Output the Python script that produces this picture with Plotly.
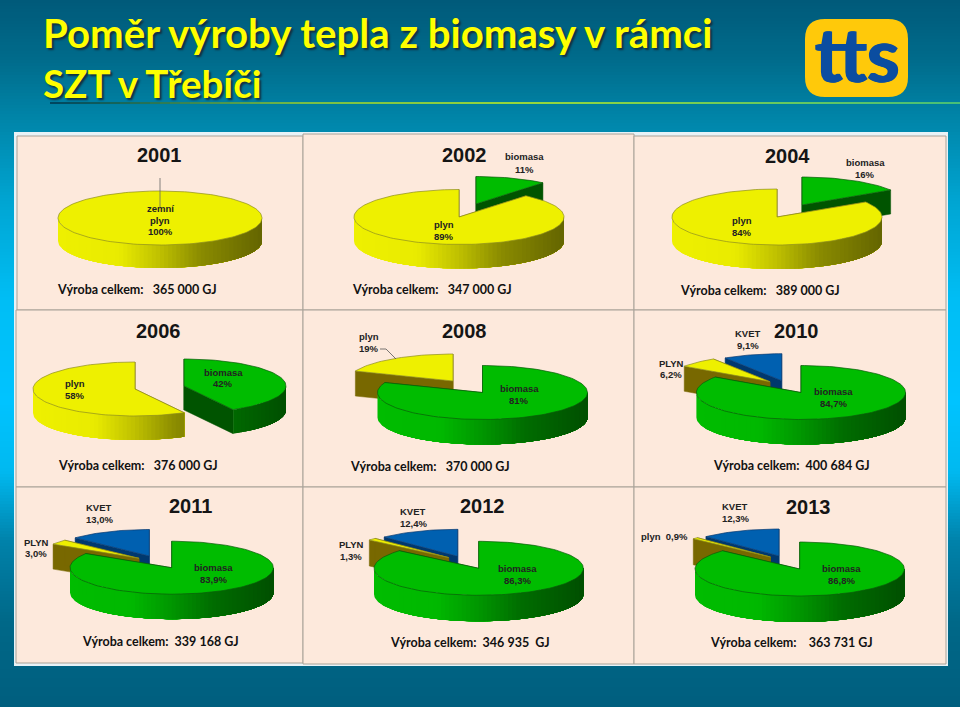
import math
import plotly.graph_objects as go

YEARS = ["2001", "2002", "2004", "2006", "2008", "2010", "2011", "2012", "2013"]
BIOMASS = [0, 11, 16, 42, 81, 84.7, 83.9, 86.3, 86.8]
GAS = [100, 89, 84, 58, 19, 6.2, 3.0, 1.3, 0.9]
CHP = [0, 0, 0, 0, 0, 9.1, 13.0, 12.4, 12.3]
TOTALS = ["365 000 GJ", "347 000 GJ", "389 000 GJ", "376 000 GJ", "370 000 GJ",
          "400 684 GJ", "339 168 GJ", "346 935  GJ", "363 731 GJ"]

# layout of each pie: radii, depth, and the centre of each exploded slice
RX = [102, 105, 105, 102, 105, 104.6, 101.7, 104.7, 104.7]
RY = [27, 27.5, 28, 27, 27, 27, 26.5, 27, 27]
DEPTH = [23, 24, 24, 24, 25, 25, 25, 26, 26]
BIO_C = [None, (476, 204), (802, 205), (184, 386), (482.5, 392.5), (801, 392.5), (171.7, 567.7), (478.7, 568.3), (799.7, 569)]
GAS_C = [(160, 218), (459, 217), (777, 217), (135, 389), (453, 381), (770, 381.7), (139, 558.3), (448.7, 557.6), (770.5, 557)]
CHP_C = [None, None, None, None, None, (781.7, 380.7), (149.3, 556), (457.7, 556.3), (779, 556)]
DRAW_ORDER = [["gas"], ["bio", "gas"], ["bio", "gas"], ["gas", "bio"], ["gas", "bio"]] + [["chp", "gas", "bio"]] * 4

YEAR_POS = [(159, 155), (464, 155), (787, 155.5), (158, 331), (464, 331), (796, 331), (190.5, 506), (482, 506), (808, 507)]
TOTAL_POS = [(55, 289), (350, 289), (678, 290), (56, 465), (348, 466), (711, 465), (80, 641), (388, 642), (708, 642)]
TOTAL_GAP = [" ", " ", " ", " ", " ", "", "", "", "  "]
LABELS = [
    ("zemní", 160, 208), ("plyn", 160, 220), ("100%", 160, 231),
    ("biomasa", 524, 156), ("11%", 524, 169), ("plyn", 444, 224), ("89%", 444, 236),
    ("biomasa", 865, 162), ("16%", 865, 174), ("plyn", 742, 220), ("84%", 742, 232),
    ("plyn", 75, 383), ("58%", 75, 395), ("biomasa", 223, 372), ("42%", 223, 383),
    ("plyn", 369, 336), ("19%", 369, 348), ("biomasa", 519, 388), ("81%", 519, 400),
    ("KVET", 748, 333), ("9,1%", 748, 345), ("PLYN", 671, 363), ("6,2%", 671, 374),
    ("biomasa", 833, 391), ("84,7%", 833, 403),
    ("KVET", 99, 507), ("13,0%", 99, 519), ("PLYN", 36, 542), ("3,0%", 36, 553),
    ("biomasa", 213, 567), ("83,9%", 213, 579),
    ("KVET", 413, 511), ("12,4%", 413, 523), ("PLYN", 351, 544), ("1,3%", 351, 556),
    ("biomasa", 517, 568), ("86,3%", 517, 580),
    ("KVET", 735, 506), ("12,3%", 735, 518), ("plyn  0,9%", 664, 536),
    ("biomasa", 841, 568), ("86,8%", 841, 580),
]
LABEL_FONT = "Liberation Sans, Arial, sans-serif"

TOP = {"bio": (0, 188, 0), "gas": (238, 240, 0), "chp": (0, 96, 176)}
CUT = {"bio": (0, 84, 0), "gas": (120, 104, 0), "chp": (0, 56, 110)}
RIM = {"bio": "#0a5a0a", "gas": "#8c8c20", "chp": "#0a3a70"}
SHADE = [(0, 1.0), (0.3, 0.98), (0.5, 0.8), (0.7, 0.58), (1, 0.42)]
BG_STOPS = [(0, (0, 90, 122)), (60, (0, 108, 140)), (110, (0, 130, 165)), (200, (0, 165, 210)), (300, (0, 190, 245)),
            (400, (0, 195, 255)), (470, (0, 185, 240)), (540, (0, 130, 170)), (620, (0, 104, 136)), (707, (0, 94, 126))]


def hexc(c):
    return "rgb(%d,%d,%d)" % tuple(int(round(v)) for v in c)


def interp(stops, t):
    for (a, va), (b, vb) in zip(stops, stops[1:]):
        if t <= b:
            f = (t - a) / (b - a)
            if isinstance(va, tuple):
                return tuple(x + (y - x) * f for x, y in zip(va, vb))
            return va + (vb - va) * f
    return stops[-1][1]


fig = go.Figure()
shapes = []
for y in range(0, 707, 3):
    shapes.append(dict(type="rect", x0=0, x1=960, y0=y, y1=y + 3.5, line_width=0, fillcolor=hexc(interp(BG_STOPS, y)), layer="below"))
# line under the title
LINE_STOPS = [(50, (0, 70, 95)), (110, (20, 100, 90)), (300, (120, 190, 70)), (520, (150, 215, 60)), (960, (70, 190, 120))]
for x in range(50, 960, 10):
    shapes.append(dict(type="line", x0=x, x1=x + 10.5, y0=103, y1=103, line=dict(color=hexc(interp(LINE_STOPS, x)), width=2), layer="below"))
# logo
shapes.append(dict(type="path", path="M825,19 H888 Q908,19 908,39 V77 Q908,97 888,97 H825 Q805,97 805,77 V39 Q805,19 825,19 Z",
                   fillcolor="#ffc90a", line_width=0, layer="below"))
# panel with cells
shapes.append(dict(type="rect", x0=14, x1=948, y0=132, y1=666, fillcolor="#e8f2f6", line_width=0, layer="below"))
CELLS = [(17, 303, 136, 310), (303, 634, 134, 310), (634, 946, 136, 310),
         (16, 303, 310, 487), (303, 634, 310, 487), (634, 946, 310, 487),
         (16, 303, 487, 663), (303, 634, 487, 664), (634, 946, 487, 664)]
for x0, x1, y0, y1 in CELLS:
    shapes.append(dict(type="rect", x0=x0, x1=x1, y0=y0, y1=y1, fillcolor="#fde9dc", line=dict(color="#a8a298", width=1), layer="below"))


def pt(c, rx, ry, a, dy=0):
    r = math.radians(a)
    return c[0] + rx * math.sin(r), c[1] - ry * math.cos(r) + dy


def poly(points, fill, line=None, w=0.8):
    xs = [p[0] for p in points] + [points[0][0]]
    ys = [p[1] for p in points] + [points[0][1]]
    fig.add_trace(go.Scatter(x=xs, y=ys, mode="lines", fill="toself", fillcolor=fill,
                             line=dict(color=line or fill, width=w), hoverinfo="skip", showlegend=False))


def arc(c, rx, ry, a0, a1, dy=0):
    n = max(2, int(abs(a1 - a0) / 2) + 1)
    return [pt(c, rx, ry, a0 + (a1 - a0) * i / n, dy) for i in range(n + 1)]


def slice3d(key, c, a0, a1, rx, ry, h):
    full = a1 - a0 >= 359.9
    if not full:
        for a in (a0, a1):
            e = pt(c, rx, ry, a)
            poly([c, e, (e[0], e[1] + h), (c[0], c[1] + h)], hexc(CUT[key]), w=0.5)
    lo, hi = max(a0, 90), min(a1, 270)
    if hi > lo:
        # painted left to right: each pass covers from its colour step to the right end, so no seams appear
        STEPS = 50
        for k in range(STEPS):
            u = -1 + 2 * k / STEPS
            a_k = 180 - math.degrees(math.asin(u))
            s = min(a_k, hi)
            if s <= lo:
                break
            next_a = 180 - math.degrees(math.asin(u + 2 / STEPS))
            if next_a >= hi:
                continue
            f = interp(SHADE, (u + 1 / STEPS + 1) / 2)
            col = tuple(v * f for v in TOP[key])
            poly(arc(c, rx, ry, lo, s) + arc(c, rx, ry, s, lo, h), hexc(col), w=0)
    pts = arc(c, rx, ry, a0, a1)
    if not full:
        pts = [c] + pts
    poly(pts, hexc(TOP[key]), RIM[key], 0.7)


for i, year in enumerate(YEARS):
    tot = BIOMASS[i] + GAS[i] + CHP[i]
    b = BIOMASS[i] / tot * 360
    g = GAS[i] / tot * 360
    spans = {"bio": (0, b, BIO_C[i]), "gas": (b, b + g, GAS_C[i]), "chp": (b + g, 360, CHP_C[i])}
    for key in DRAW_ORDER[i]:
        a0, a1, c = spans[key]
        slice3d(key, c, a0, a1, RX[i], RY[i], DEPTH[i])

# leader lines
fig.add_trace(go.Scatter(x=[160, 160], y=[178, 208], mode="lines", line=dict(color="#666666", width=0.8), hoverinfo="skip", showlegend=False))
fig.add_trace(go.Scatter(x=[380, 386, 396], y=[349, 349, 359], mode="lines", line=dict(color="#555555", width=0.8), hoverinfo="skip", showlegend=False))

ann = []
for i, year in enumerate(YEARS):
    ann.append(dict(x=YEAR_POS[i][0], y=YEAR_POS[i][1], text=year, xanchor="center", yanchor="middle", showarrow=False,
                    font=dict(family=LABEL_FONT, size=20, color="#151515", weight="bold")))
    ann.append(dict(x=TOTAL_POS[i][0], y=TOTAL_POS[i][1], xanchor="left", yanchor="middle", showarrow=False,
                    text=("Výroba celkem:  " + TOTAL_GAP[i] + TOTALS[i]).replace(" ", "\u00a0"),
                    font=dict(family="Lato, sans-serif", size=12.5, color="#111111", weight="bold")))
for txt, x, y in LABELS:
    ann.append(dict(x=x, y=y, text=txt.replace(" ", "\u00a0"), xanchor="center", yanchor="middle", showarrow=False,
                    font=dict(family=LABEL_FONT, size=9.5, color="#222222", weight="bold")))
SHADOW = "2px 2px 2px #123040"
ann.append(dict(x=41, y=32, text="Poměr výroby tepla z biomasy v rámci", xanchor="left", yanchor="middle", showarrow=False,
                font=dict(family="Lato, sans-serif", size=40.2, color="#ffff00", weight="bold", shadow=SHADOW)))
ann.append(dict(x=41, y=83, text="SZT v Třebíči", xanchor="left", yanchor="middle", showarrow=False,
                font=dict(family="Lato, sans-serif", size=38.5, color="#ffff00", weight="bold", shadow=SHADOW)))
ann.append(dict(x=857, y=53, text="tts", xanchor="center", yanchor="middle", showarrow=False,
                font=dict(family="Lato, sans-serif", size=74, color="#0b4da0", weight="bold",
                          shadow="1px 0 #0b4da0, -1px 0 #0b4da0")))

fig.update_layout(width=960, height=707, margin=dict(l=0, r=0, t=0, b=0), autosize=False,
                  paper_bgcolor="rgba(0,0,0,0)", plot_bgcolor="rgba(0,0,0,0)", showlegend=False,
                  shapes=shapes, annotations=ann,
                  xaxis=dict(range=[0, 960], visible=False, fixedrange=True),
                  yaxis=dict(range=[707, 0], visible=False, fixedrange=True))
fig.write_html("out.html", config={"displayModeBar": False},
               post_script="document.body.style.margin='0';document.body.style.overflow='hidden';")
